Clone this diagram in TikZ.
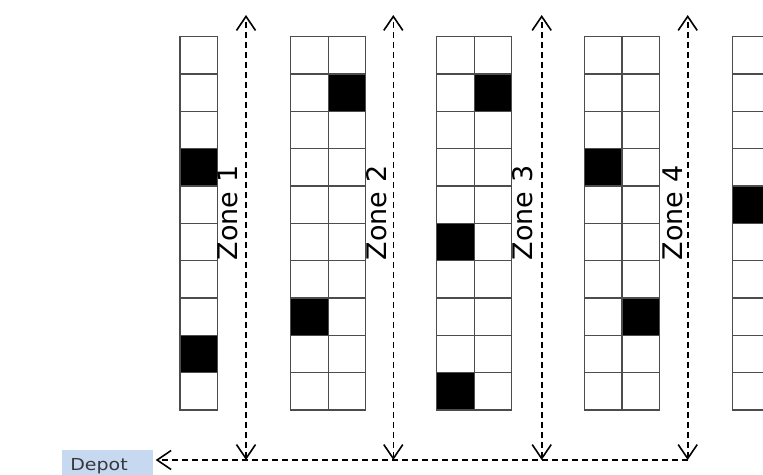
\documentclass[tikz,border=0pt]{standalone}
\usepackage{fontspec}
\setmainfont{DejaVu Sans}
\usetikzlibrary{arrows.meta}
\definecolor{depotblue}{RGB}{198,217,241}
\definecolor{depottext}{RGB}{55,55,60}
\begin{document}
\begin{tikzpicture}[x=1pt,y=-1pt,
  cell/.style={draw=black!70,line width=1.4pt},
  full/.style={cell,fill=black},
  barb/.tip={Straight Barb[length=14pt,width=19pt,line width=1.6pt]},
  route/.style={dash pattern=on 6pt off 4pt,line width=1.6pt},
  zonelabel/.style={inner sep=0pt,rotate=90,font=\fontsize{27}{27}\selectfont},
  depotbox/.style={fill=depotblue,draw=none,minimum width=91pt,minimum height=30pt,inner sep=0pt}
]
\useasboundingbox (0,0) rectangle (763,474);
% racks
\foreach \x/\n in {180/1, 290.7/2, 436.7/2, 584.3/2, 732.3/2} {
  \foreach \c in {1,...,\n} {
    \foreach \r in {0,...,9} {
      \draw[cell] ({\x+(\c-1)*37.5},{36.7+\r*37.33}) rectangle +(37.5,37.33);
    }
  }
}
% occupied cells
\foreach \x/\r in {180/3, 180/8, 328.2/1, 290.7/7, 474.2/1, 436.7/5, 436.7/9, 584.3/3, 621.8/7, 732.3/4} {
  \draw[full] (\x,{36.7+\r*37.33}) rectangle +(37.5,37.33);
}
% zone labels
\node[zonelabel] (zl1) at (228,213) {Zone 1};
\node[zonelabel] (zl2) at (377,213) {Zone 2};
\node[zonelabel] (zl3) at (523,213) {Zone 3};
\node[zonelabel] (zl4) at (673,213) {Zone 4};
% depot
\node[depotbox] (depot) at (107.5,465) {};
\node[text=depottext,inner sep=0pt,font=\fontsize{16.5}{16.5}\selectfont] (depotlabel) at (99,466) {\scalebox{1.15}[1]{Depot}};
% routes
\coordinate (t1) at (246,15);   \coordinate (b1) at (246,460);
\coordinate (t2) at (393.3,15); \coordinate (b2) at (393.3,460);
\coordinate (t3) at (541.7,15); \coordinate (b3) at (541.7,460);
\coordinate (t4) at (687.7,15); \coordinate (b4) at (687.7,460);
\coordinate (dtip) at ([xshift=2.5pt]depot.east |- b1);
\foreach \i in {1,...,4} {
  \draw[route,barb-barb] (b\i) -- (t\i);
}
\draw[route,-barb] (b4) -- (dtip);
\end{tikzpicture}
\end{document}
